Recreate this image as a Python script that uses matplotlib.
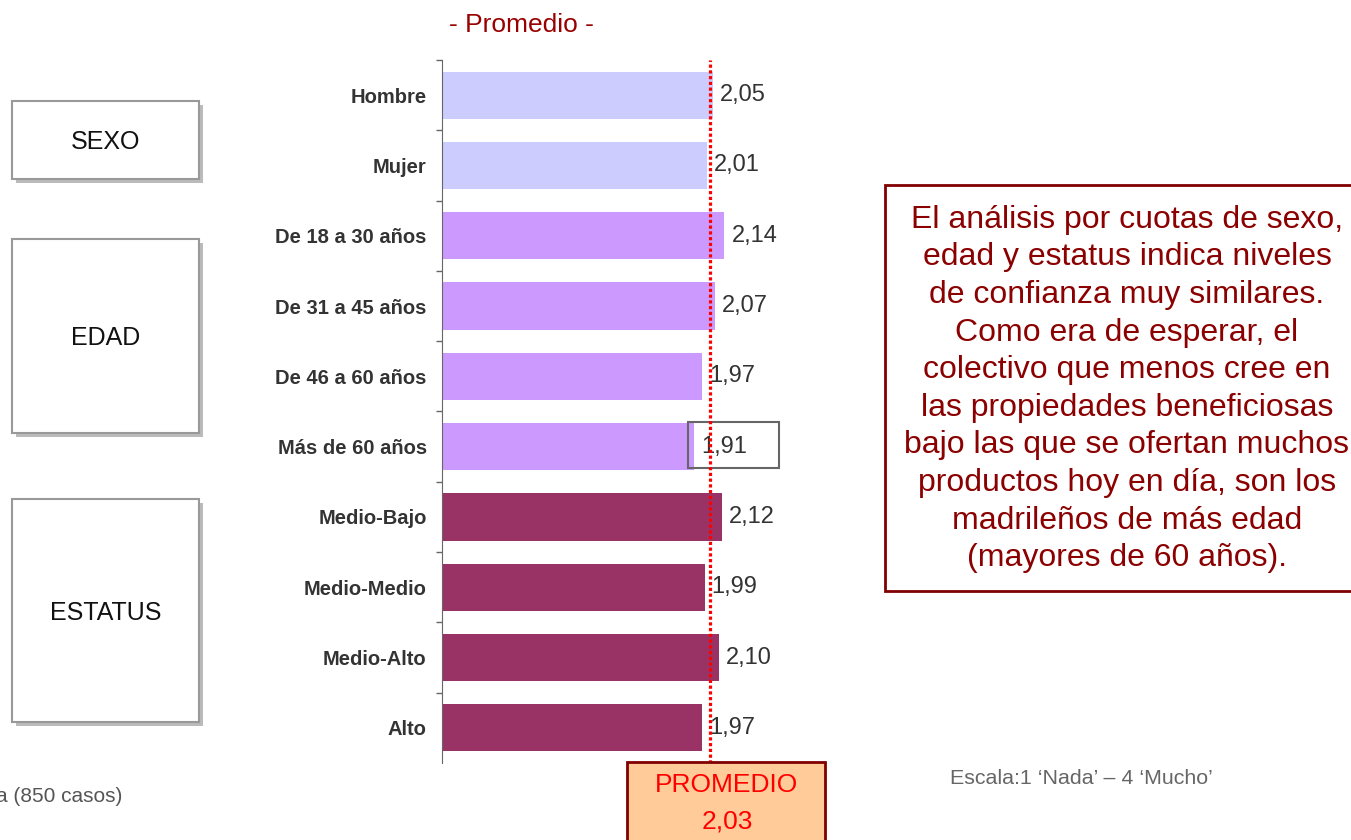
import matplotlib.pyplot as plt
from matplotlib.patches import Rectangle
from matplotlib.ticker import FixedLocator

plt.rcParams['font.family'] = ['Liberation Sans', 'DejaVu Sans']

# Datos: confianza media por cuotas
categorias = ['Hombre', 'Mujer', 'De 18 a 30 años', 'De 31 a 45 años', 'De 46 a 60 años',
              'Más de 60 años', 'Medio-Bajo', 'Medio-Medio', 'Medio-Alto', 'Alto']
valores = [2.05, 2.01, 2.14, 2.07, 1.97, 1.91, 2.12, 1.99, 2.10, 1.97]
grupos = ['sexo', 'sexo', 'edad', 'edad', 'edad', 'edad', 'estatus', 'estatus', 'estatus', 'estatus']
promedio = 2.03
destacado = 'Más de 60 años'

colores = {'sexo': '#CCCCFF', 'edad': '#CC99FF', 'estatus': '#993366'}

W, H = 1351, 840


def fx(x):
    return x / W


def fy(y):
    return 1 - y / H


def coma(v):
    return f'{v:.2f}'.replace('.', ',')


fig = plt.figure(figsize=(W / 100, H / 100), dpi=100)
ax = fig.add_axes([fx(442), fy(763), 400 / W, 703 / H])

pos = list(range(len(categorias)))
ax.barh(pos, valores, height=0.67, color=[colores[g] for g in grupos])
ax.set_xlim(0, 400 / 132)
ax.set_ylim(len(categorias) - 0.5, -0.5)

for s in ['top', 'right', 'bottom']:
    ax.spines[s].set_visible(False)
ax.spines['left'].set_color('#666666')
ax.set_xticks([])
ax.set_yticks(pos)
ax.set_yticklabels(categorias, fontsize=14.5, fontweight='bold', color='#333333')
ax.tick_params(axis='y', which='major', length=0, pad=11)
ax.yaxis.set_minor_locator(FixedLocator([p - 0.5 for p in pos]))
ax.tick_params(axis='y', which='minor', length=4, color='#666666', width=1)

for p, v, c in zip(pos, valores, categorias):
    ax.annotate(coma(v), (v, p), xytext=(5, 0), textcoords='offset points',
                va='center', ha='left', fontsize=17, color='#333333', zorder=4)
    if c == destacado:
        ax.add_patch(Rectangle((v - 0.046, p - 0.35), 0.69, 0.65, fill=False,
                               edgecolor='#666666', lw=1.5, zorder=3))

ax.axvline(promedio, color='red', lw=2.3, linestyle=(0, (1, 0.8)), zorder=5)

# Título
fig.text(fx(521), fy(25), '- Promedio -', ha='center', va='center', fontsize=19, color='#990000')

# Cajas de grupo a la izquierda
for nombre, y0, y1 in [('SEXO', 101, 179), ('EDAD', 239, 433), ('ESTATUS', 499, 722)]:
    fig.patches.append(Rectangle((fx(16), fy(y1 + 4)), fx(187), (y1 - y0) / H,
                                 transform=fig.transFigure, facecolor='#BBBBBB', edgecolor='none'))
    fig.patches.append(Rectangle((fx(12), fy(y1)), fx(187), (y1 - y0) / H,
                                 transform=fig.transFigure, facecolor='white', edgecolor='#999999', lw=1.5))
    fig.text(fx(106), fy((y0 + y1) / 2 + 2), nombre, ha='center', va='center', fontsize=18, color='#111111')

# Caja del promedio
fig.patches.append(Rectangle((fx(627), fy(845)), fx(198), 83 / H, transform=fig.transFigure,
                             facecolor='#FFCC99', edgecolor='#800000', lw=2))
fig.text(fx(727), fy(785), 'PROMEDIO', ha='center', va='center', fontsize=19, color='red')
fig.text(fx(727), fy(822), coma(promedio), ha='center', va='center', fontsize=19, color='red')

# Comentario
fig.patches.append(Rectangle((fx(885), fy(591)), fx(480), (591 - 185) / H, transform=fig.transFigure,
                             facecolor='white', edgecolor='#800000', lw=2))
comentario = ('El análisis por cuotas de sexo,\nedad y estatus indica niveles\n'
              'de confianza muy similares.\nComo era de esperar, el\n'
              'colectivo que menos cree en\nlas propiedades beneficiosas\n'
              'bajo las que se ofertan muchos\nproductos hoy en día, son los\n'
              'madrileños de más edad\n(mayores de 60 años).')
fig.text(fx(1127), fy(389), comentario, ha='center', va='center', fontsize=23, color='#8B0000',
         linespacing=1.33)

fig.text(fx(950), fy(778), 'Escala:1 \u2018Nada\u2019 \u2013 4 \u2018Mucho\u2019', ha='left', va='center',
         fontsize=15.4, color='#666666')
fig.text(fx(-4), fy(797), 'a (850 casos)', ha='left', va='center', fontsize=15, color='#555555')

fig.savefig('out.png', dpi=100)
